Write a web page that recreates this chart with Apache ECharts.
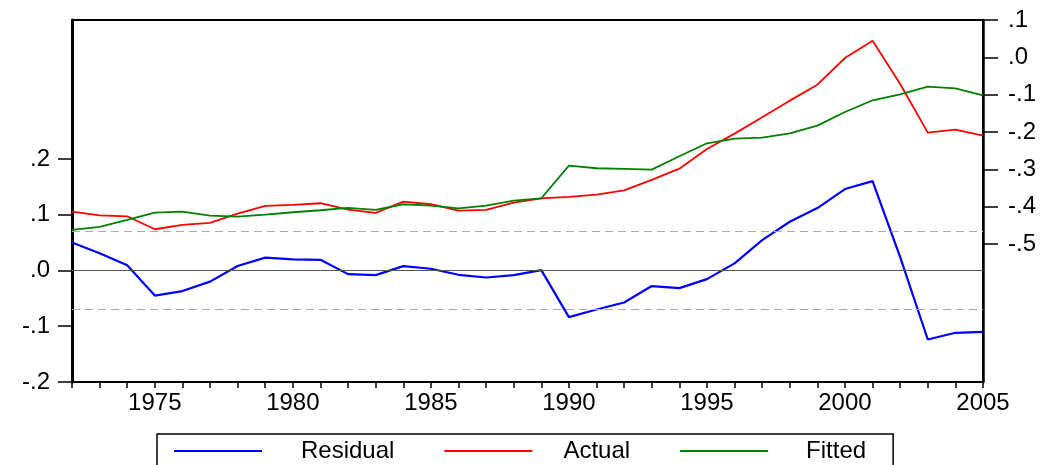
<!DOCTYPE html>
<html>
<head>
    <meta charset="utf-8">
    <title>Residual / Actual / Fitted</title>
    <script src="https://cdn.jsdelivr.net/npm/echarts@6/dist/echarts.min.js"></script>
    <style>
        html, body { margin: 0; padding: 0; background: #fff; }
    </style>
</head>
<body>
    <div id="main" style="width: 1054px;height:465px;"></div>
    <script type="text/javascript">
        // years on the x axis
        var years = [];
        for (var y = 1972; y <= 2005; y++) years.push(String(y));

        var residual = [0.050, 0.031, 0.0095, -0.045, -0.037, -0.020, 0.008, 0.023, 0.020, 0.019,
                        -0.0066, -0.0084, 0.0078, 0.003, -0.0078, -0.0126, -0.0084, 0.0006, -0.0837, -0.070,
                        -0.0574, -0.028, -0.0317, -0.0155, 0.0126, 0.0544, 0.0873, 0.1118, 0.1459, 0.1602,
                        0.0239, -0.1238, -0.1118, -0.110];
        var actual = [-0.4135, -0.4233, -0.426, -0.4607, -0.449, -0.4438, -0.4188, -0.398, -0.3956, -0.391,
                      -0.408, -0.417, -0.3867, -0.3937, -0.4108, -0.409, -0.3893, -0.3777, -0.374, -0.368,
                      -0.3563, -0.3286, -0.2983, -0.2456, -0.2045, -0.1607, -0.1161, -0.0733, -0.0018, 0.0446,
                      -0.0714, -0.2019, -0.1938, -0.21];
        var fitted = [-0.4626, -0.4545, -0.4358, -0.416, -0.4135, -0.4242, -0.427, -0.4215, -0.4152, -0.4098,
                      -0.4036, -0.409, -0.3937, -0.3974, -0.4045, -0.3974, -0.384, -0.3777, -0.2903, -0.2973,
                      -0.2991, -0.301, -0.2651, -0.2303, -0.218, -0.2153, -0.2036, -0.1831, -0.1465, -0.1151,
                      -0.099, -0.0787, -0.083, -0.1017];

        // tick values shown on each axis
        var leftTicks = [-0.2, -0.1, 0, 0.1, 0.2];
        var rightTicks = [-0.5, -0.4, -0.3, -0.2, -0.1, 0, 0.1];
        var seBand = 0.067;

        function fmt(v) {
            var n = Math.round(Math.abs(v) * 10);
            return (v < -1e-9 ? '-' : '') + '.' + n;
        }

        var font = 'Liberation Sans, Arial, sans-serif';
        var fs = 24;
        var myChart = echarts.init(document.getElementById('main'));

        var option = {
            animation: false,
            grid: {
                left: 72, right: 71, top: 20, bottom: 83,
                show: true, borderColor: '#000', borderWidth: 2
            },
            legend: {
                data: [
                    { name: 'Residual', textStyle: { padding: [0, 0, 0, 34] } },
                    { name: 'Actual', textStyle: { padding: [0, 0, 0, 26] } },
                    { name: 'Fitted', textStyle: { padding: [0, 0, 0, 33] } }
                ],
                left: 157,
                top: 434,
                icon: 'rect',
                itemWidth: 88,
                itemHeight: 2,
                itemGap: 50,
                padding: [5, 27, 30, 17],
                borderColor: '#000',
                borderWidth: 1.5,
                textStyle: { fontFamily: font, fontSize: fs, color: '#000' }
            },
            xAxis: {
                type: 'category',
                data: years,
                boundaryGap: false,
                axisLine: { onZero: false, lineStyle: { color: '#000', width: 2 } },
                axisTick: { interval: 0, length: 6, lineStyle: { color: '#000', width: 1.5 } },
                axisLabel: {
                    interval: function (i, v) { return Number(v) % 5 === 0; },
                    margin: 9,
                    fontFamily: font, fontSize: fs, color: '#000'
                },
                splitLine: { show: false }
            },
            yAxis: [{
                type: 'value',
                position: 'left',
                min: -0.2,
                max: 0.449,
                axisLine: { show: true, lineStyle: { color: '#000', width: 3 } },
                axisTick: { show: true, length: 14, customValues: leftTicks, lineStyle: { color: '#000', width: 1.5 } },
                axisLabel: { customValues: leftTicks, formatter: fmt, margin: 22, fontFamily: font, fontSize: fs, color: '#000' },
                splitLine: { show: false }
            }, {
                type: 'value',
                position: 'right',
                min: -0.87,
                max: 0.1,
                axisLine: { show: true, lineStyle: { color: '#000', width: 2.5 } },
                axisTick: { show: true, length: 15, customValues: rightTicks, lineStyle: { color: '#000', width: 1.5 } },
                axisLabel: { customValues: rightTicks, formatter: fmt, margin: 25, fontFamily: font, fontSize: fs, color: '#000' },
                splitLine: { show: false }
            }],
            series: [{
                name: 'Residual',
                type: 'line',
                yAxisIndex: 0,
                data: residual,
                symbol: 'none',
                color: '#0000ff',
                lineStyle: { width: 2.2 },
                markLine: {
                    silent: true,
                    symbol: ['none', 'none'],
                    label: { show: false },
                    data: [
                        { yAxis: 0, lineStyle: { color: '#555', width: 1.2, type: 'solid' } },
                        { yAxis: seBand, lineStyle: { color: '#aaa', width: 1.2, type: [8, 5] } },
                        { yAxis: -seBand, lineStyle: { color: '#aaa', width: 1.2, type: [8, 5] } }
                    ]
                }
            }, {
                name: 'Actual',
                type: 'line',
                yAxisIndex: 1,
                data: actual,
                symbol: 'none',
                color: '#ff0000',
                lineStyle: { width: 1.8 }
            }, {
                name: 'Fitted',
                type: 'line',
                yAxisIndex: 1,
                data: fitted,
                symbol: 'none',
                color: '#008000',
                lineStyle: { width: 1.8 }
            }]
        };

        myChart.setOption(option);
    </script>
</body>
</html>
